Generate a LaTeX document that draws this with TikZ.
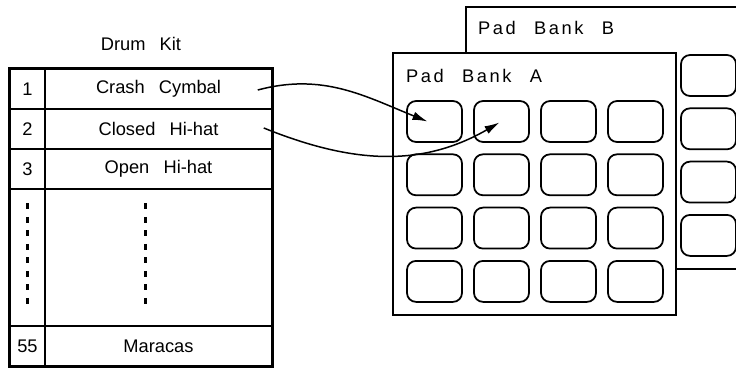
\documentclass[tikz,border=0pt]{standalone}
\usepackage{fontspec}
\setmainfont{Liberation Sans}[WordSpace=2.8]
\newfontfamily\bankfont{Liberation Sans}[LetterSpace=14,WordSpace=2.4]
\usetikzlibrary{arrows.meta,calc,positioning}
\tikzset{
  cell/.style={draw,line width=0.9pt,inner sep=0pt,minimum height=0.8cm,
    font=\fontsize{10.4}{12}\selectfont},
  numcell/.style={cell,minimum width=0.7cm},
  namecell/.style={cell,minimum width=4.54cm},
  frame/.style={draw,line width=1.3pt},
  dotrun/.style={line width=1.7pt,dash pattern=on 3.3pt off 4.4pt},
  bank/.style={frame,fill=white,minimum width=5.66cm,minimum height=5.24cm,inner sep=0pt},
  banklabel/.style={anchor=west,inner sep=0pt,font=\bankfont\fontsize{10.4}{12}\selectfont},
  pad/.style={draw,line width=1pt,rounded corners=1.8mm,fill=white,
    minimum width=1.1cm,minimum height=0.82cm,inner sep=0pt},
  assign/.style={-{Latex[length=3mm,width=1.7mm]},line width=0.85pt}
}

\begin{document}
\begin{tikzpicture}[x=0.02cm,y=-0.02cm]
  \useasboundingbox (0,0) rectangle (736,368);

  % drum kit table
  \node[numcell] (n1) at (27.5,89) {1};
  \node[namecell] (crash) at (158.5,89) {Crash Cymbal};
  \node[numcell] (n2) at (27.5,129) {2};
  \node[namecell] (closed) at (158.5,129) {Closed Hi-hat};
  \node[numcell] (n3) at (27.5,169) {3};
  \node[namecell] (open) at (158.5,169) {Open Hi-hat};
  \node[numcell,minimum height=2.74cm] (ngap) at (27.5,257.5) {};
  \node[namecell,minimum height=2.74cm] (gap) at (158.5,257.5) {};
  \node[numcell] (n55) at (27.5,346) {55};
  \node[namecell] (maracas) at (158.5,346) {Maracas};
  \draw[frame] (n1.north west) rectangle (maracas.south east);
  \draw[dotrun] ($(ngap.north)+(0,15)$) -- ($(ngap.south)+(0,-22)$);
  \draw[dotrun] ($(gap.north)+(-13,15)$) -- ($(gap.south)+(-13,-22)$);

  \node[font=\fontsize{10.4}{12}\selectfont] (kit) at ($(n1.north west)!0.5!(crash.north east)+(0,-24)$) {Drum Kit};

  % back bank, only its last column shows
  \node[bank] (bankB) at (607.5,138) {};
  \foreach \r in {0,...,3}
    \foreach \c in {0,...,3}
      \node[pad] (b-\r-\c) at ({507.5+67*\c},{75.5+53.3*\r}) {};
  \node[banklabel] (labelB) at ($(bankB.north west)+(13,22)$) {Pad Bank B};

  % front bank
  \node[bank] (bankA) at (534.5,184) {};
  \foreach \r in {0,...,3}
    \foreach \c in {0,...,3}
      \node[pad] (a-\r-\c) at ({434.5+67*\c},{121.5+53.3*\r}) {};
  \node[banklabel] (labelA) at ($(bankA.north west)+(14,24)$) {Pad Bank A};

  % sound to pad assignments
  \coordinate (crashout) at ($(crash.east)+(-15,1)$);
  \coordinate (closedout) at ($(closed.east)+(-9,-1)$);
  \draw[assign] (crashout) to[out=15,in=158] ($(a-0-0.center)+(-7,0)$);
  \draw[assign] (closedout) to[out=-22,in=-150] ($(a-0-1.center)+(-2,1)$);
\end{tikzpicture}
\end{document}
